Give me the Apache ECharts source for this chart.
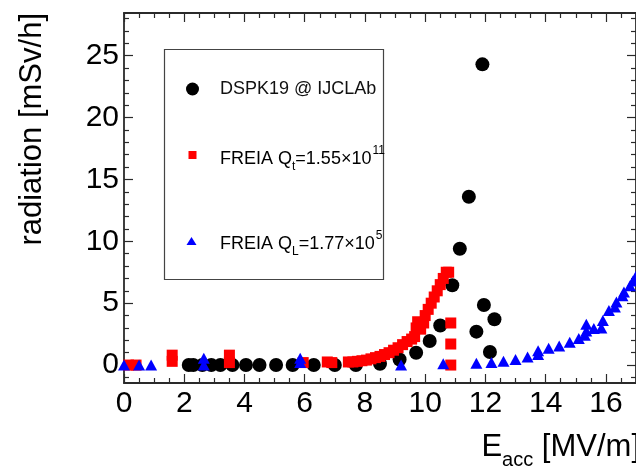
<!DOCTYPE html>
<html>
<head>
<meta charset="utf-8">
<script src="https://cdn.jsdelivr.net/npm/echarts@6/dist/echarts.min.js"></script>
<style>html,body{margin:0;padding:0;background:#fff}#c{width:636px;height:466px}</style>
</head>
<body>
<div id="c"></div>
<script>
// DSPK19 @ IJCLAb (black circles)
var dspkX = [2.15, 2.3, 2.6, 2.9, 3.2, 3.6, 4.05, 4.5, 5.05, 5.6, 6.3, 7.0, 7.7, 8.5, 9.15, 9.7, 10.15, 10.5, 10.9, 11.15, 11.45, 11.9, 11.7, 11.95, 12.15, 12.3];
var dspkY = [0, 0, 0, 0, 0, 0, 0, 0, 0, 0, 0, 0, 0, 0.1, 0.45, 1.0, 1.95, 3.2, 6.45, 9.4, 13.6, 24.3, 2.7, 4.85, 1.05, 3.7];
// FREIA Qt (red squares)
var freiaTX = [0.15, 0.4, 1.6, 1.6, 3.5, 3.5, 5.95, 6.75, 6.9, 7.45, 7.6, 7.75, 7.9, 8.05, 8.2, 8.35, 8.5, 8.65, 8.8, 8.95, 9.1, 9.25, 9.4, 9.55, 9.65, 9.7, 9.75, 9.85, 9.95, 10.0, 10.1, 10.2, 10.3, 10.4, 10.5, 10.6, 10.7, 10.78, 10.85, 10.85, 10.85];
var freiaTY = [0.0, 0.0, 0.3, 0.8, 0.2, 0.8, 0.2, 0.25, 0.2, 0.25, 0.25, 0.3, 0.35, 0.4, 0.5, 0.6, 0.7, 0.85, 1.0, 1.2, 1.4, 1.65, 1.9, 2.1, 2.3, 3.0, 3.5, 2.9, 3.4, 4.0, 4.5, 5.0, 5.5, 6.0, 6.5, 7.0, 7.5, 7.5, 3.4, 1.7, 0.0];
// FREIA QL (blue triangles)
var freiaLX = [0.0, 0.5, 0.9, 2.65, 2.65, 5.85, 5.85, 9.2, 10.6, 11.7, 12.2, 12.6, 13.0, 13.4, 13.75, 13.75, 14.1, 14.45, 14.8, 15.1, 15.3, 15.35, 15.35, 15.6, 15.85, 15.9, 16.1, 16.3, 16.35, 16.55, 16.6, 16.8, 16.9, 17.0];
var freiaLY = [0.0, 0.0, 0.0, 0.0, 0.55, 0.2, 0.55, 0.0, 0.1, 0.15, 0.2, 0.3, 0.45, 0.65, 0.85, 1.15, 1.35, 1.55, 1.85, 2.15, 2.4, 2.75, 3.3, 2.95, 3.0, 3.6, 4.4, 4.7, 5.1, 5.6, 5.9, 6.4, 6.8, 7.2];
// axis ticks
var xTicks = [0, 2, 4, 6, 8, 10, 12, 14, 16];
var yMajor = [0, 5, 10, 15, 20, 25];
var yMinor = [-1, 1, 2, 3, 4, 6, 7, 8, 9, 11, 12, 13, 14, 16, 17, 18, 19, 21, 22, 23, 24, 26, 27, 28];

function pairs(xs, ys) { return xs.map(function (x, i) { return [x, ys[i]]; }); }

var FONT = "'Liberation Sans', Arial, Helvetica, sans-serif";
var AX = '#2a2a2a';
var X_MIN = 0, X_MAX = 17, Y_MIN = -1.45, Y_MAX = 28.45;

var chart = echarts.init(document.getElementById('c'), null, {renderer: 'canvas'});

function xAxisDef(pos, showLabel) {
  return {
    type: 'value', position: pos, min: X_MIN, max: X_MAX, interval: 2,
    axisLine: {show: true, onZero: false, lineStyle: {color: AX, width: 1.8}},
    axisTick: {show: true, inside: true, length: 9, lineStyle: {color: AX, width: 1.2}},
    minorTick: {show: true, splitNumber: 4, length: 5, lineStyle: {color: AX, width: 1.2}},
    splitLine: {show: false},
    axisLabel: {show: showLabel, fontSize: 30, fontFamily: FONT, color: '#000', margin: 6,
      customValues: xTicks}
  };
}
function yAxisDef(pos, showLabel, vals, len, showLine) {
  return {
    type: 'value', position: pos, min: Y_MIN, max: Y_MAX,
    axisLine: {show: showLine, onZero: false, lineStyle: {color: AX, width: 1.8}},
    axisTick: {show: true, inside: true, length: len, customValues: vals, lineStyle: {color: AX, width: 1.2}},
    splitLine: {show: false},
    axisLabel: {show: showLabel, fontSize: 30, fontFamily: FONT, color: '#000', margin: 5,
      customValues: vals}
  };
}

var subRich = {
  n: {fontSize: 18, fontFamily: FONT, lineHeight: 26, verticalAlign: 'bottom', color: '#111'},
  sub: {fontSize: 12, fontFamily: FONT, lineHeight: 26, verticalAlign: 'bottom', padding: [0, 0, -5, 0], color: '#111'},
  sup: {fontSize: 12, fontFamily: FONT, lineHeight: 18, verticalAlign: 'top', padding: [3, 0, 0, 1], color: '#111'}
};

var option = {
  backgroundColor: '#fff',
  animation: false,
  grid: {left: 124, right: -3, top: 13, bottom: 83, containLabel: false},
  xAxis: [xAxisDef('bottom', true), xAxisDef('top', false)],
  yAxis: [
    yAxisDef('left', true, yMajor, 9, true),
    yAxisDef('left', false, yMinor, 5, false),
    yAxisDef('right', false, yMajor, 9, true),
    yAxisDef('right', false, yMinor, 5, false)
  ],
  series: [
    {name: 'DSPK19 @ IJCLAb', type: 'scatter', symbol: 'circle', symbolSize: 14,
     itemStyle: {color: '#000', opacity: 1}, data: pairs(dspkX, dspkY), z: 2},
    {name: 'FREIA Qt', type: 'scatter', symbol: 'rect', symbolSize: 11,
     itemStyle: {color: '#ff0000', opacity: 1}, data: pairs(freiaTX, freiaTY), z: 3},
    {name: 'FREIA QL', type: 'scatter', symbol: 'triangle', symbolSize: [12, 11],
     itemStyle: {color: '#0000ff', opacity: 1}, data: pairs(freiaLX, freiaLY), z: 4}
  ],
  graphic: [
    // y-axis title
    {type: 'text', x: 32, y: 13, rotation: Math.PI / 2,
     style: {text: 'radiation [mSv/h]', font: '31px ' + FONT, fill: '#000', align: 'right', verticalAlign: 'middle'}},
    // x-axis title
    {type: 'text', x: 640, y: 445,
     style: {text: '{e|E}{s|acc}{e| [MV/m]}', align: 'right', verticalAlign: 'middle', fill: '#000',
       rich: {e: {fontSize: 31, fontFamily: FONT, lineHeight: 36, verticalAlign: 'bottom'},
              s: {fontSize: 20, fontFamily: FONT, lineHeight: 36, verticalAlign: 'bottom', padding: [0, 0, -7, 0]}}}},
    // legend box
    {type: 'rect', shape: {x: 164.5, y: 49.5, width: 219, height: 230},
     style: {fill: '#fff', stroke: '#444', lineWidth: 1.2}, z: 10},
    {type: 'circle', shape: {cx: 192.5, cy: 89, r: 6.5}, style: {fill: '#000'}, z: 11},
    {type: 'rect', shape: {x: 188.5, y: 151, width: 8, height: 8}, style: {fill: '#ff0000'}, z: 11},
    {type: 'polygon', shape: {points: [[191.5, 237], [186.5, 245], [196.5, 245]]}, style: {fill: '#0000ff'}, z: 11},
    {type: 'text', x: 220, y: 89, z: 11,
     style: {text: 'DSPK19 @ IJCLAb', font: '18px ' + FONT, fill: '#111', verticalAlign: 'middle'}},
    {type: 'text', x: 220, y: 155, z: 11,
     style: {text: '{n|FREIA Q}{sub|t}{n|=1.55×10}{sup|11}', verticalAlign: 'middle', rich: subRich}},
    {type: 'text', x: 220, y: 240, z: 11,
     style: {text: '{n|FREIA Q}{sub|L}{n|=1.77×10}{sup|5}', verticalAlign: 'middle', rich: subRich}}
  ]
};
chart.setOption(option);
</script>
</body>
</html>
